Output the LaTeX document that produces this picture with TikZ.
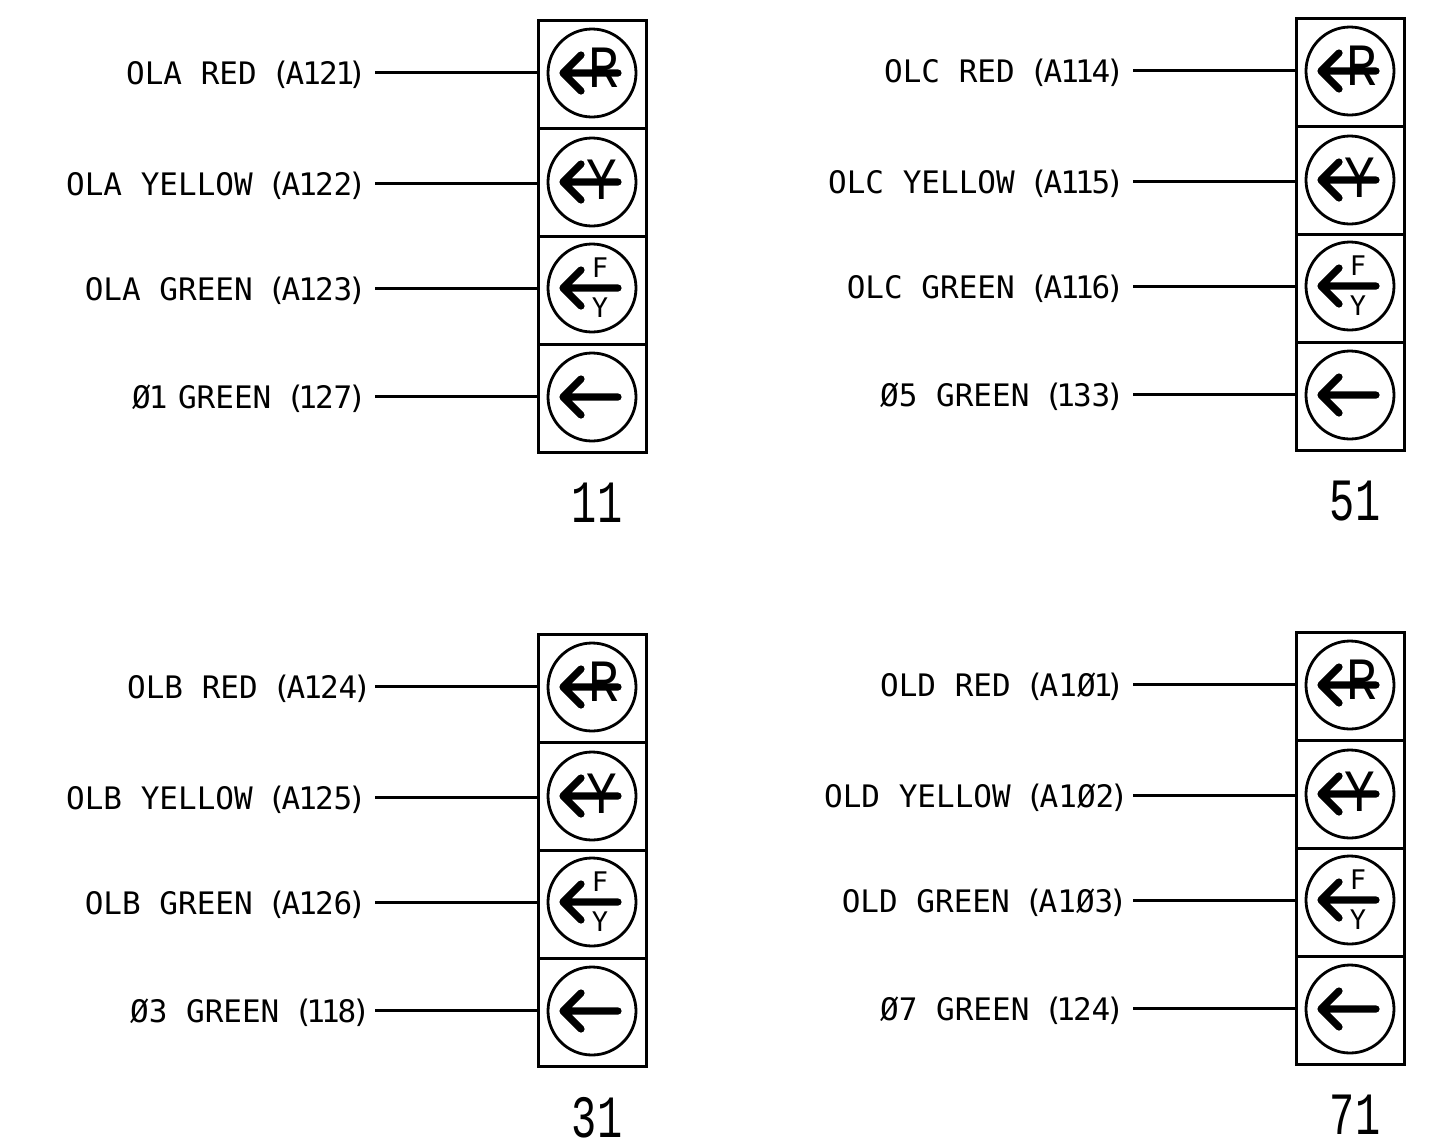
\documentclass[tikz,border=0pt]{standalone}
\usepackage{fontspec}
\usepackage{tikz}
\usetikzlibrary{positioning}

\newfontfamily\cadfont{DejaVu Sans Mono}
\newfontfamily\bigfont{Liberation Mono}
\newcommand{\tagno}[1]{\kern1pt\kern-3pt(\kern-2.2pt#1\kern-2.2pt)\kern-2.5pt}
\newcommand{\one}{\kern-1pt1\kern-1pt}

\tikzset{
  sigbox/.style={draw=black,line width=1.5pt,minimum size=54pt,inner sep=0pt,outer sep=0pt},
  lens/.style={circle,draw=black,line width=1.4pt,minimum size=44pt,inner sep=0pt,outer sep=0pt},
  leadline/.style={draw=black,line width=1.5pt},
  leadtag/.style={inner sep=0pt,yshift=-1.5pt,font=\cadfont\fontsize{15.5}{15.5}\selectfont},
  biglet/.style={inner sep=0pt,font=\bigfont\fontsize{30}{30}\selectfont},
  smalllet/.style={inner sep=0pt,font=\cadfont\fontsize{13.5}{13.5}\selectfont},
  stacknum/.style={inner sep=0pt,font=\bigfont\fontsize{30}{30}\selectfont},
  leftarrow/.pic={
    \draw[line width=3.6pt,line cap=round,line join=round]
      (-11,-18) -- (-29,0) -- (-11,18) (-29,0) -- (26,0);
  }
}

\begin{document}
\begin{tikzpicture}[x=0.5pt,y=-0.5pt]
  \useasboundingbox (0,0) rectangle (1437,1147);

  \foreach \nm/\x/\y/\num in {a/538/20/11,c/1296/18/51,b/538/634/31,d/1296/632/71} {
    \begin{scope}[shift={(\x,\y)}]
      \node[sigbox] (\nm1) at (54,54) {};
      \node[sigbox] (\nm2) [below=0pt of \nm1] {};
      \node[sigbox] (\nm3) [below=0pt of \nm2] {};
      \node[sigbox] (\nm4) [below=0pt of \nm3] {};
      \node[stacknum] (\nm n) [below=15.5pt of \nm4,xshift=2.5pt] {\scalebox{0.7}[1]{\num}};
      \foreach \i/\dc/\dl in {1/0.5/1,2/0/-0.5,3/1/1,4/0.5/1} {
        \node[lens] (\nm\i c) [yshift=\dc pt] at (\nm\i) {};
        \pic at (\nm\i c) {leftarrow};
        \coordinate (\nm\i t) at ([xshift=-81.5pt,yshift=\dl pt]\nm\i.west);
        \path[leadline] (\nm\i t) -- (\nm\i t -| \nm\i.west);
      }
      \node[biglet] (\nm r) at ([xshift=6pt,yshift=2.5pt]\nm1c) {\scalebox{0.85}[1]{R}};
      \node[biglet] (\nm y) at ([xshift=5pt,yshift=1pt]\nm2c) {\scalebox{0.85}[1]{Y}};
      \node[smalllet] (\nm f) at ([xshift=4pt,yshift=10pt]\nm3c) {F};
      \node[smalllet] (\nm g) at ([xshift=4pt,yshift=-10pt]\nm3c) {Y};
    \end{scope}
  }

  \node[leadtag] (a1l) [left=6.5pt of a1t] {OLA RED \tagno{A\one2\one}};
  \node[leadtag] (a2l) [left=6.5pt of a2t] {OLA YELLOW \tagno{A\one22}};
  \node[leadtag] (a3l) [left=6.5pt of a3t] {OLA GREEN \tagno{A\one23}};
  \node[leadtag] (a4l) [left=6.5pt of a4t] {Ø\one\kern-3pt{} GREEN \tagno{\one27}};

  \node[leadtag] (c1l) [left=6.5pt of c1t] {OLC RED \tagno{A\one\one4}};
  \node[leadtag] (c2l) [left=6.5pt of c2t] {OLC YELLOW \tagno{A\one\one5}};
  \node[leadtag] (c3l) [left=6.5pt of c3t] {OLC GREEN \tagno{A\one\one6}};
  \node[leadtag] (c4l) [left=6.5pt of c4t] {Ø5 GREEN \tagno{\one33}};

  \node[leadtag] (b1l) [left=4pt of b1t] {OLB RED \tagno{A\one24}};
  \node[leadtag] (b2l) [left=6.5pt of b2t] {OLB YELLOW \tagno{A\one25}};
  \node[leadtag] (b3l) [left=6.5pt of b3t] {OLB GREEN \tagno{A\one26}};
  \node[leadtag] (b4l) [left=4.5pt of b4t] {Ø3 GREEN \tagno{\one\one8}};

  \node[leadtag] (d1l) [left=6.5pt of d1t] {OLD RED \tagno{A1Ø\one}};
  \node[leadtag] (d2l) [left=4.5pt of d2t] {OLD YELLOW \tagno{A1Ø2}};
  \node[leadtag] (d3l) [left=5pt of d3t] {OLD GREEN \tagno{A1Ø3}};
  \node[leadtag] (d4l) [left=6.5pt of d4t] {Ø7 GREEN \tagno{\one24}};
\end{tikzpicture}
\end{document}
